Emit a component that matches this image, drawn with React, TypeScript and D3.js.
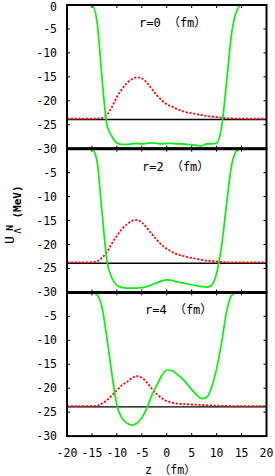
import React from "react";
import * as d3 from "d3";

const zValues = d3.range(-20, 21, 1);

const greenR0 = [0,0,0,0,0,0,-3.3,-15,-25,-27.4,-28.8,-29.1,-29.1,-29.0,-28.9,-29.0,-28.9,-28.8,-28.9,-29.0,-28.9,-28.9,-29.0,-29.0,-29.1,-29.2,-29.3,-29.4,-29.0,-29.0,-28.8,-25.5,-16,-6,-1.3,0,0,0,0,0,0];
const redR0 = [-23.75,-23.75,-23.75,-23.75,-23.75,-23.75,-23.7,-23.6,-22.9,-21.3,-19.2,-17.6,-16.3,-15.5,-15.1,-15.3,-16.2,-17.5,-18.8,-19.9,-20.7,-21.2,-21.7,-22.1,-22.4,-22.6,-22.8,-23.0,-23.2,-23.3,-23.4,-23.55,-23.65,-23.7,-23.72,-23.75,-23.75,-23.75,-23.75,-23.75,-23.75];

const greenR2 = [0,0,0,0,0,0,-2.5,-13,-23.3,-27,-28.5,-29.0,-29.1,-29.1,-29.1,-29.0,-28.8,-28.4,-28.0,-27.6,-27.4,-27.5,-27.8,-28.0,-28.2,-28.4,-28.6,-28.8,-28.9,-28.5,-26,-20.3,-11.5,-3.5,-0.5,0,0,0,0,0,0];
const redR2 = [-23.75,-23.75,-23.75,-23.75,-23.75,-23.7,-23.5,-22.8,-21.6,-19.8,-18.2,-16.8,-15.8,-15.1,-14.9,-15.4,-16.5,-17.8,-19.0,-20.1,-20.9,-21.5,-22.0,-22.3,-22.6,-22.8,-23.0,-23.2,-23.35,-23.45,-23.55,-23.65,-23.7,-23.75,-23.75,-23.75,-23.75,-23.75,-23.75,-23.75,-23.75];

const greenR4 = [0,0,0,0,0,0,-0.5,-3.0,-9.5,-17,-23.5,-26.2,-27.3,-27.7,-27.3,-26.2,-24.2,-21.5,-19.4,-17.4,-16.2,-16.3,-17.0,-17.9,-19.0,-20.3,-21.4,-22.2,-21.9,-19.8,-15.9,-10.5,-4.0,-0.6,-0.1,0,0,0,0,0,0];
const redR4 = [-23.75,-23.75,-23.75,-23.75,-23.75,-23.75,-23.7,-23.2,-22.5,-21.5,-20.4,-19.4,-18.7,-17.9,-17.5,-17.8,-18.8,-20.1,-21.2,-22.1,-22.7,-23.0,-23.2,-23.3,-23.35,-23.4,-23.45,-23.5,-23.55,-23.6,-23.65,-23.7,-23.72,-23.75,-23.75,-23.75,-23.75,-23.75,-23.75,-23.75,-23.75];

const panelLabels = ["r=0 （fm）", "r=2 （fm）", "r=4 （fm）"];
const greenSeries = [greenR0, greenR2, greenR4];
const redSeries = [redR0, redR2, redR4];
const thresholdLevel = -23.9;

const xTicks = [-20, -15, -10, -5, 0, 5, 10, 15, 20];
const yTicks = [0, -5, -10, -15, -20, -25, -30];

const FONT = "'DejaVu Sans Mono', 'Noto Sans CJK JP', monospace";

export default function App() {
  const left = 67;
  const right = 266.5;
  const top = 5;
  const panelH = 143.7;
  const x = d3.scaleLinear().domain([-20, 20]).range([left, right]);
  const line = d3.line<[number, number]>().x((d) => x(d[0])).curve(d3.curveMonotoneX);

  return (
    <svg width={275} height={476} style={{ position: "absolute", left: 0, top: 0 }}>
      <rect x={0} y={0} width={275} height={476} fill="#fff" />
      {[0, 1, 2].map((p) => {
        const pt = top + p * panelH;
        const y = d3.scaleLinear().domain([0, -30]).range([pt, pt + panelH]);
        const l = line.y((d) => y(d[1]));
        const gPts = zValues.map((z, i) => [z, greenSeries[p][i]] as [number, number]);
        const rPts = zValues.map((z, i) => [z, redSeries[p][i]] as [number, number]);
        return (
          <g key={p}>
            <defs>
              <clipPath id={`clip${p}`}>
                <rect x={left} y={pt} width={right - left} height={panelH} />
              </clipPath>
            </defs>
            <g clipPath={`url(#clip${p})`}>
              <line x1={left} x2={right} y1={y(thresholdLevel)} y2={y(thresholdLevel)} stroke="#000" strokeWidth={1.4} />
              <path d={l(rPts) || ""} fill="none" stroke="#ff0a0a" strokeWidth={1.8} strokeDasharray="2.2,1.6" />
              <path d={l(gPts) || ""} fill="none" stroke="#0af00a" strokeWidth={1.7} />
            </g>
            {yTicks.slice(1, -1).map((t) => (
              <g key={t}>
                <line x1={left} x2={left + 3} y1={y(t)} y2={y(t)} stroke="#000" strokeWidth={1} />
                <line x1={right - 3} x2={right} y1={y(t)} y2={y(t)} stroke="#000" strokeWidth={1} />
              </g>
            ))}
            {xTicks.slice(1, -1).map((t) => (
              <g key={t}>
                <line x1={x(t)} x2={x(t)} y1={pt} y2={pt + 3} stroke="#000" strokeWidth={1} />
                <line x1={x(t)} x2={x(t)} y1={pt + panelH - 3} y2={pt + panelH} stroke="#000" strokeWidth={1} />
              </g>
            ))}
            {yTicks.filter((t) => p === 0 || t !== 0).map((t) => (
              <text key={t} x={left - 10} y={Math.max(y(t), 6.5)} dy="0.35em" textAnchor="end" fontFamily={FONT} fontSize={11.5} fill="#000">
                {t}
              </text>
            ))}
            <text x={x(-20) + 72 + p * 3} y={pt + 22} fontFamily={FONT} fontSize={12} fill="#000">
              {panelLabels[p]}
            </text>
            <rect x={left} y={pt} width={right - left} height={panelH} fill="none" stroke="#000" strokeWidth={2} />
          </g>
        );
      })}
      {[1, 2].map((p) => (
        <line key={p} x1={left} x2={right} y1={top + p * panelH} y2={top + p * panelH} stroke="#000" strokeWidth={3} />
      ))}
      {xTicks.map((t) => (
        <text key={t} x={x(t)} y={top + 3 * panelH + 21} textAnchor="middle" fontFamily={FONT} fontSize={11.5} fill="#000">
          {t}
        </text>
      ))}
      <text x={145} y={474} fontFamily={FONT} fontSize={11.5} fill="#000">
        z （fm）
      </text>
      <g fontFamily={FONT} fill="#000">
        <text transform="translate(9,240) rotate(-90)" textAnchor="middle" dominantBaseline="central" fontSize={13}>U</text>
        <text transform="translate(9,228) rotate(-90)" textAnchor="middle" dominantBaseline="central" fontSize={9.5} fontWeight="bold">N</text>
        <text transform="translate(17,231) rotate(-90)" textAnchor="middle" dominantBaseline="central" fontSize={9.5}>Λ</text>
        <text transform="translate(17,202) rotate(-90)" textAnchor="middle" dominantBaseline="central" fontSize={11} fontWeight="bold">(MeV)</text>
      </g>
    </svg>
  );
}
